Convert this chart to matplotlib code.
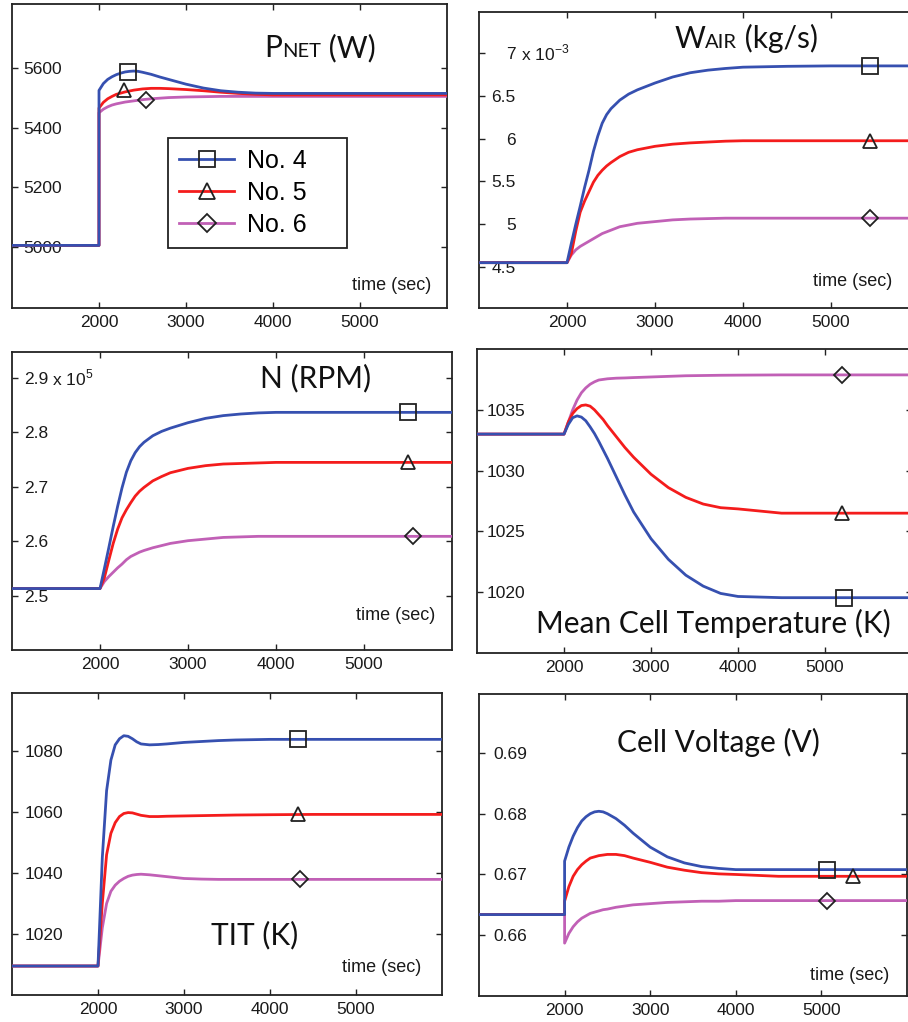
import matplotlib
matplotlib.use('Agg')
import matplotlib.pyplot as plt
from matplotlib.lines import Line2D
from matplotlib.offsetbox import TextArea, HPacker, AnchoredOffsetbox

W, H = 908, 1022
BLUE = '#3650b0'
RED = '#f41c1c'
MAG = '#c160b6'
EDGE = '#222222'
TICK_FONT = 'Liberation Sans'
TITLE_FONT = 'Lato'

# time axis shared by every series (2000 appears twice for the step change)
t = [1000, 2000, 2000, 2050, 2100, 2150, 2200, 2250, 2300, 2350, 2400, 2450, 2500,
     2600, 2700, 2800, 3000, 3200, 3400, 3600, 3800, 4000, 4500, 5000, 6000]

# net power (W)
pnet_4 = [5005, 5005, 5525, 5548, 5562, 5571, 5578, 5583, 5587, 5589, 5590, 5589, 5586,
          5579, 5570, 5562, 5546, 5533, 5524, 5519, 5516, 5515, 5515, 5515, 5515]
pnet_5 = [5005, 5005, 5466, 5485, 5497, 5505, 5512, 5516, 5520, 5523, 5526, 5528, 5530,
          5532, 5532, 5531, 5528, 5524, 5519, 5515, 5512, 5510, 5510, 5510, 5510]
pnet_6 = [5005, 5005, 5450, 5462, 5470, 5476, 5480, 5483, 5486, 5488, 5490, 5492, 5494,
          5497, 5499, 5501, 5503, 5504, 5505, 5505, 5505, 5505, 5505, 5505, 5505]

# air flow (x 10^-3 kg/s)
wair_4 = [4.55, 4.55, 4.55, 4.78, 5.00, 5.21, 5.43, 5.63, 5.85, 6.03, 6.18, 6.28, 6.35,
          6.45, 6.52, 6.57, 6.65, 6.72, 6.77, 6.80, 6.82, 6.835, 6.845, 6.85, 6.85]
wair_5 = [4.55, 4.55, 4.55, 4.66, 4.92, 5.14, 5.27, 5.38, 5.49, 5.57, 5.63, 5.68, 5.72,
          5.79, 5.84, 5.87, 5.91, 5.935, 5.95, 5.96, 5.97, 5.975, 5.975, 5.975, 5.975]
wair_6 = [4.55, 4.55, 4.55, 4.64, 4.70, 4.74, 4.77, 4.80, 4.83, 4.86, 4.89, 4.91, 4.93,
          4.97, 4.99, 5.01, 5.03, 5.05, 5.06, 5.065, 5.07, 5.07, 5.07, 5.07, 5.07]

# shaft speed (x 10^5 RPM)
n_4 = [2.513, 2.513, 2.513, 2.55, 2.588, 2.627, 2.664, 2.698, 2.727, 2.748, 2.763, 2.774,
       2.782, 2.794, 2.802, 2.808, 2.818, 2.826, 2.831, 2.834, 2.836, 2.837, 2.837, 2.837,
       2.837]
n_5 = [2.513, 2.513, 2.513, 2.533, 2.565, 2.596, 2.622, 2.643, 2.658, 2.671, 2.683, 2.692,
       2.699, 2.711, 2.719, 2.726, 2.734, 2.739, 2.742, 2.743, 2.744, 2.745, 2.745, 2.745,
       2.745]
n_6 = [2.513, 2.513, 2.513, 2.526, 2.535, 2.543, 2.551, 2.558, 2.566, 2.572, 2.576, 2.580,
       2.583, 2.588, 2.592, 2.596, 2.601, 2.604, 2.607, 2.608, 2.609, 2.609, 2.609, 2.609,
       2.609]

# mean cell temperature (K)
tcell_4 = [1033, 1033, 1033, 1033.8, 1034.35, 1034.5, 1034.4, 1034.1, 1033.6, 1033.05,
           1032.4, 1031.7, 1031.0, 1029.5, 1028.0, 1026.6, 1024.4, 1022.7, 1021.4,
           1020.5, 1019.9, 1019.65, 1019.55, 1019.55, 1019.55]
tcell_5 = [1033, 1033, 1033, 1034.0, 1034.7, 1035.1, 1035.35, 1035.4, 1035.3, 1035.0,
           1034.6, 1034.2, 1033.7, 1032.8, 1031.9, 1031.1, 1029.7, 1028.6, 1027.8,
           1027.25, 1026.95, 1026.85, 1026.5, 1026.5, 1026.5]
tcell_6 = [1033, 1033, 1033, 1034.0, 1035.0, 1035.8, 1036.4, 1036.8, 1037.1, 1037.3,
           1037.45, 1037.5, 1037.55, 1037.6, 1037.62, 1037.65, 1037.7, 1037.75, 1037.8,
           1037.82, 1037.84, 1037.85, 1037.87, 1037.87, 1037.87]

# turbine inlet temperature (K)
tit_4 = [1009.5, 1009.5, 1009.5, 1045, 1067, 1077, 1082, 1084, 1085, 1084.8, 1084, 1083,
         1082.3, 1082.0, 1082.1, 1082.3, 1082.8, 1083.1, 1083.4, 1083.6, 1083.7, 1083.8,
         1083.8, 1083.8, 1083.8]
tit_5 = [1009.5, 1009.5, 1009.5, 1030, 1046, 1053, 1056.5, 1058.5, 1059.5, 1059.8, 1059.7,
         1059.3, 1058.9, 1058.5, 1058.5, 1058.6, 1058.7, 1058.8, 1058.9, 1059.0, 1059.05,
         1059.1, 1059.2, 1059.2, 1059.2]
tit_6 = [1009.5, 1009.5, 1009.5, 1022, 1030, 1034, 1036, 1037.3, 1038.2, 1038.9, 1039.3,
         1039.5, 1039.6, 1039.4, 1039.1, 1038.8, 1038.2, 1038.0, 1037.9, 1037.9, 1037.9,
         1037.9, 1037.9, 1037.9, 1037.9]

# cell voltage (V)
volt_4 = [0.6634, 0.6634, 0.6722, 0.6745, 0.6763, 0.6777, 0.6788, 0.6795, 0.6800, 0.6803,
          0.6804, 0.6803, 0.6800, 0.6792, 0.6781, 0.6768, 0.6745, 0.6729, 0.6719, 0.6713,
          0.6710, 0.6708, 0.6708, 0.6708, 0.6708]
volt_5 = [0.6634, 0.6634, 0.6656, 0.6680, 0.6697, 0.6708, 0.6716, 0.6722, 0.6727, 0.6729,
          0.6731, 0.6732, 0.6733, 0.6733, 0.6731, 0.6727, 0.6720, 0.6712, 0.6707, 0.6703,
          0.6701, 0.6700, 0.6697, 0.6697, 0.6697]
volt_6 = [0.6634, 0.6634, 0.6587, 0.6603, 0.6614, 0.6622, 0.6628, 0.6632, 0.6636, 0.6638,
          0.6640, 0.6642, 0.6643, 0.6646, 0.6648, 0.6650, 0.6652, 0.6654, 0.6655, 0.6656,
          0.6656, 0.6657, 0.6657, 0.6657, 0.6657]

# single marker placed on each curve: (time, value)
mk_pnet = [(2330, 5588), (2290, 5528), (2540, 5494)]
mk_wair = [(5440, 6.85), (5440, 5.975), (5440, 5.07)]
mk_n = [(5500, 2.837), (5500, 2.745), (5560, 2.609)]
mk_tcell = [(5220, 1019.55), (5200, 1026.5), (5200, 1037.87)]
mk_tit = [(4320, 1083.8), (4320, 1059.2), (4350, 1037.9)]
mk_volt = [(5070, 0.6708), (5370, 0.6697), (5065, 0.6657)]

cases = ['No. 4', 'No. 5', 'No. 6']
colors = [BLUE, RED, MAG]
markers = ['s', '^', 'D']
msizes = [11, 10, 8]

fig = plt.figure(figsize=(W / 100, H / 100), dpi=100)
fig.patch.set_facecolor('white')


def px_axes(l, tp, r, b):
    return fig.add_axes([l / W, 1 - b / H, (r - l) / W, (b - tp) / H])


def fx(x):
    return x / W


def fy(y):
    return 1 - y / H


def panel(rect, series, marks, ylim, yticks, ylabels, ypad):
    ax = px_axes(*rect)
    for i in [2, 1, 0]:
        ax.plot(t, series[i], color=colors[i], lw=2.0, zorder=3 + (2 - i),
                solid_joinstyle='round')
        mx, my = marks[i]
        ax.plot([mx], [my], ls='none', marker=markers[i], ms=msizes[i],
                mfc='none', mec=EDGE, mew=1.3, zorder=10)
    ax.set_xlim(1000, 6000)
    ax.set_ylim(*ylim)
    ax.set_xticks([2000, 3000, 4000, 5000])
    ax.set_yticks(yticks)
    ax.set_yticklabels(ylabels)
    for lab in ax.get_xticklabels() + ax.get_yticklabels():
        lab.set_fontfamily(TICK_FONT)
        lab.set_fontsize(12.5)
    ax.tick_params(direction='in', length=4, width=1, top=True, right=True,
                   colors=EDGE, labelcolor='#1a1a1a')
    ax.tick_params(axis='x', pad=5)
    ax.tick_params(axis='y', pad=ypad)
    for s in ax.spines.values():
        s.set_color(EDGE)
        s.set_linewidth(1.3)
    return ax


def smallcaps(ax, parts, x, y):
    boxes = [TextArea(s, textprops=dict(fontsize=fs, family=TITLE_FONT, color='#111111'))
             for s, fs in parts]
    pack = HPacker(children=boxes, align='baseline', pad=0, sep=0)
    box = AnchoredOffsetbox(loc='center', child=pack, pad=0, borderpad=0, frameon=False,
                            bbox_to_anchor=(fx(x), fy(y)), bbox_transform=fig.transFigure)
    ax.add_artist(box)


def title(txt, x, y):
    fig.text(fx(x), fy(y), txt, fontsize=21.5, family=TITLE_FONT, ha='center',
             va='center', color='#111111')


def time_label(x, y):
    fig.text(fx(x), fy(y), 'time (sec)', fontsize=13, family=TICK_FONT,
             ha='left', va='center', color='#1a1a1a')


# ---- net power ----
ax1 = panel((12, 4, 447, 308), [pnet_4, pnet_5, pnet_6], mk_pnet, (4795, 5815),
            [5000, 5200, 5400, 5600], ['5000', '5200', '5400', '5600'], -36)
smallcaps(ax1, [('P', 21.5), ('NET', 14.5), (' (W)', 21.5)], 320, 48)
time_label(352, 285)
handles = [Line2D([], [], color=colors[i], lw=2.0, marker=markers[i], ms=msizes[i] + 1,
                  mfc='none', mec=EDGE, mew=1.3) for i in range(3)]
leg = ax1.legend(handles, cases, loc='upper left', mode='expand',
                 bbox_to_anchor=(fx(168), fy(248), (347 - 168) / W, (248 - 138) / H),
                 bbox_transform=fig.transFigure, borderaxespad=0, fancybox=False,
                 framealpha=1, edgecolor=EDGE, handlelength=2.2, handletextpad=0.5,
                 labelspacing=0.32, borderpad=0.45, numpoints=1,
                 prop={'family': TICK_FONT, 'size': 18})
leg.get_frame().set_linewidth(1.3)

# ---- air flow ----
ax2 = panel((479, 12, 919, 308), [wair_4, wair_5, wair_6], mk_wair, (4.02, 7.48),
            [4.5, 5, 5.5, 6, 6.5, 7], ['4.5', '5', '5.5', '6', '6.5', '7'], -26.5)
smallcaps(ax2, [('W', 21.5), ('AIR', 14.5), (' (kg/s)', 21.5)], 746, 38)
fig.text(fx(521), fy(53), r'x 10$^{\mathregular{-3}}$', fontsize=12.5, family=TICK_FONT,
         ha='left', va='center', color='#1a1a1a')
time_label(813, 282)

# ---- shaft speed ----
ax3 = panel((12, 352, 452, 650), [n_4, n_5, n_6], mk_n, (2.40, 2.948),
            [2.5, 2.6, 2.7, 2.8, 2.9], ['2.5', '2.6', '2.7', '2.8', '2.9'], -26)
fig.text(fx(52), fy(378), r'x 10$^{\mathregular{5}}$', fontsize=12.5, family=TICK_FONT,
         ha='left', va='center', color='#1a1a1a')
title('N (RPM)', 316, 378)
time_label(356, 615)

# ---- mean cell temperature ----
ax4 = panel((477, 349, 912, 653), [tcell_4, tcell_5, tcell_6], mk_tcell, (1015, 1040),
            [1020, 1025, 1030, 1035], ['1020', '1025', '1030', '1035'], -35)
title('Mean Cell Temperature (K)', 713, 623)

# ---- turbine inlet temperature ----
ax5 = panel((12, 693, 442, 995), [tit_4, tit_5, tit_6], mk_tit, (1000, 1099),
            [1020, 1040, 1060, 1080], ['1020', '1040', '1060', '1080'], -37)
title('TIT (K)', 255, 935)
time_label(342, 968)

# ---- cell voltage ----
ax6 = panel((479, 694, 907, 996), [volt_4, volt_5, volt_6], mk_volt, (0.650, 0.6997),
            [0.66, 0.67, 0.68, 0.69], ['0.66', '0.67', '0.68', '0.69'], -34.5)
title('Cell Voltage (V)', 718, 742)
time_label(810, 975)

fig.savefig('out.png', dpi=100, facecolor='white')
